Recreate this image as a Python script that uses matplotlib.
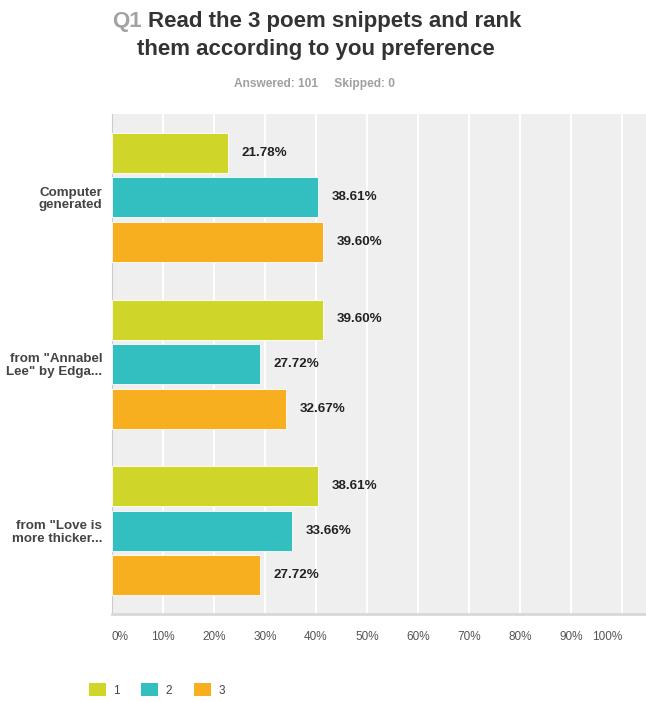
import numpy as np
import matplotlib
matplotlib.use("Agg")
import matplotlib.pyplot as plt
from matplotlib.patches import Patch

plt.rcParams['font.family'] = ['Liberation Sans', 'DejaVu Sans']

categories = ['Computer\ngenerated', 'from "Annabel\nLee" by Edga...', 'from "Love is\nmore thicker...']
series_names = ['1', '2', '3']
rank1 = [21.78, 39.60, 38.61]
rank2 = [38.61, 27.72, 33.66]
rank3 = [39.60, 32.67, 27.72]
tick_labels = ['0%', '10%', '20%', '30%', '40%', '50%', '60%', '70%', '80%', '90%', '100%']

colors = ['#cfd629', '#33bec0', '#f7ae1f']
W, H = 646, 702

fig = plt.figure(figsize=(W / 100, H / 100), dpi=100)
ax = fig.add_axes([112 / W, (H - 614) / H, 534 / W, 500 / H])
ax.set_facecolor('#efefef')

y = np.arange(len(categories))
bh = 0.24
step = 0.267
for i, vals in enumerate([rank1, rank2, rank3]):
    pos = y + (i - 1) * step
    ax.barh(pos, vals, height=bh, color=colors[i], edgecolor='white', linewidth=0.6, zorder=3)
    for p, v in zip(pos, vals):
        ax.text(v + 2.55, p, '%.2f%%' % v, va='center', ha='left',
                fontsize=9.6, fontweight='bold', color='#222222')

ax.set_xlim(0, 100)
ax.set_ylim(2.5, -0.5)

# gridlines are drawn on a slightly shorter scale than the bars (as in the source)
gscale = 510 / 534
ticks = np.arange(0, 101, 10) * gscale
ax.set_xticks(ticks)
ax.set_xticklabels(tick_labels, fontsize=8.5, color='#555555')
labs = ax.get_xticklabels()
labs[0].set_ha('left')
labs[-1].set_ha('right')
ax.xaxis.grid(True, color='white', linewidth=1.5, zorder=1)
ax.tick_params(axis='x', length=0, pad=12)

ax.set_yticks(y)
ax.set_yticklabels(categories, fontsize=9.6, fontweight='bold', color='#444444', linespacing=1.05)
ax.tick_params(axis='y', length=0, pad=7)

for s in ['top', 'right']:
    ax.spines[s].set_visible(False)
ax.spines['left'].set_color('#cccccc')
ax.spines['bottom'].set_color('#d8d8d8')
ax.spines['bottom'].set_linewidth(2)

# title
fig.text(112 / W, 1 - 22 / H, 'Q1', fontsize=16, fontweight='bold', color='#a3a3a3', va='center')
fig.text(148 / W, 1 - 22 / H, 'Read the 3 poem snippets and rank', fontsize=16,
         fontweight='bold', color='#333333', va='center')
fig.text(137 / W, 1 - 49 / H, 'them according to you preference', fontsize=16,
         fontweight='bold', color='#333333', va='center')
fig.text(315 / W, 1 - 84 / H, 'Answered: 101     Skipped: 0', fontsize=8.6,
         fontweight='bold', color='#a0a0a0', va='center', ha='center')

handles = [Patch(facecolor=c, edgecolor='none') for c in colors]
fig.legend(handles, series_names, loc='center left', bbox_to_anchor=(78 / W, 12 / H),
           ncol=3, frameon=False, fontsize=8.5, handlelength=1.45, handleheight=1.3,
           handletextpad=0.6, columnspacing=1.85, labelcolor='#444444')

fig.savefig('out.png', dpi=100, facecolor='white')
